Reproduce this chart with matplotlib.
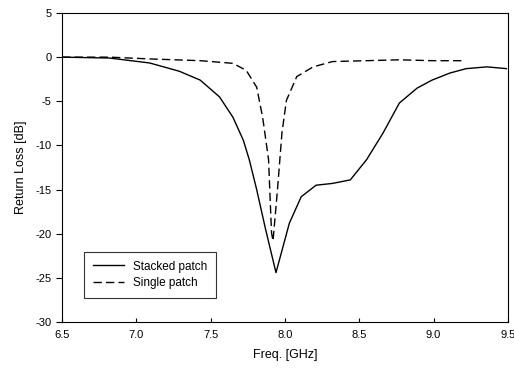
import matplotlib.pyplot as plt

plt.rcParams['font.family'] = ['Liberation Sans', 'DejaVu Sans']
plt.rcParams['axes.unicode_minus'] = False

# Stacked patch (solid)
stacked_f = [6.50, 6.82, 7.09, 7.29, 7.43, 7.56, 7.65, 7.72, 7.76, 7.81, 7.87,
             7.94, 8.03, 8.11, 8.21, 8.32, 8.44, 8.55, 8.66, 8.77, 8.89,
             8.99, 9.11, 9.22, 9.36, 9.49]
stacked_db = [0.0, -0.1, -0.66, -1.6, -2.6, -4.5, -6.8, -9.4, -11.6, -15.0, -19.5,
              -24.4, -18.8, -15.8, -14.5, -14.3, -13.9, -11.6, -8.6, -5.2, -3.5,
              -2.6, -1.8, -1.3, -1.1, -1.3]

# Single patch (dashed)
single_f = [6.50, 6.82, 7.09, 7.43, 7.65, 7.74, 7.81, 7.85, 7.89, 7.90, 7.91,
            7.92, 7.95, 7.98, 8.01, 8.08, 8.19, 8.32, 8.55, 8.77, 8.99, 9.20]
single_db = [0.0, 0.0, -0.2, -0.4, -0.7, -1.5, -3.4, -6.8, -11.6, -15.8, -19.9,
             -20.8, -15.0, -8.6, -4.9, -2.2, -1.1, -0.5, -0.4, -0.3, -0.4, -0.4]

xticks = [6.5, 7.0, 7.5, 8.0, 8.5, 9.0, 9.5]
yticks = [5, 0, -5, -10, -15, -20, -25, -30]

fig = plt.figure(figsize=(5.14, 3.78), dpi=100)
ax = fig.add_axes([0.1206, 0.148, 0.8674, 0.8176])

ax.plot(stacked_f, stacked_db, color='black', linewidth=1.0, label='Stacked patch')
ax.plot(single_f, single_db, color='black', linewidth=1.0, dashes=(6, 3),
        label='Single patch')

ax.set_xlim(6.5, 9.5)
ax.set_ylim(-30, 5)
ax.set_xticks(xticks)
ax.set_xticklabels([f'{t:.1f}' for t in xticks])
ax.set_yticks(yticks)
ax.tick_params(axis='x', direction='in', length=3, labelsize=8, pad=6)
ax.tick_params(axis='y', direction='out', length=4, labelsize=8)

ax.set_xlabel('Freq. [GHz]', fontsize=9, labelpad=6)
ax.set_ylabel('Return Loss [dB]', fontsize=9, labelpad=6)

leg = ax.legend(loc='lower left', bbox_to_anchor=(0.037, 0.06), fontsize=8.5,
                frameon=True, fancybox=False, edgecolor='black', handlelength=2.6,
                borderpad=0.75, labelspacing=0.35)
leg.get_frame().set_linewidth(0.8)

plt.savefig('out.png', dpi=100)
